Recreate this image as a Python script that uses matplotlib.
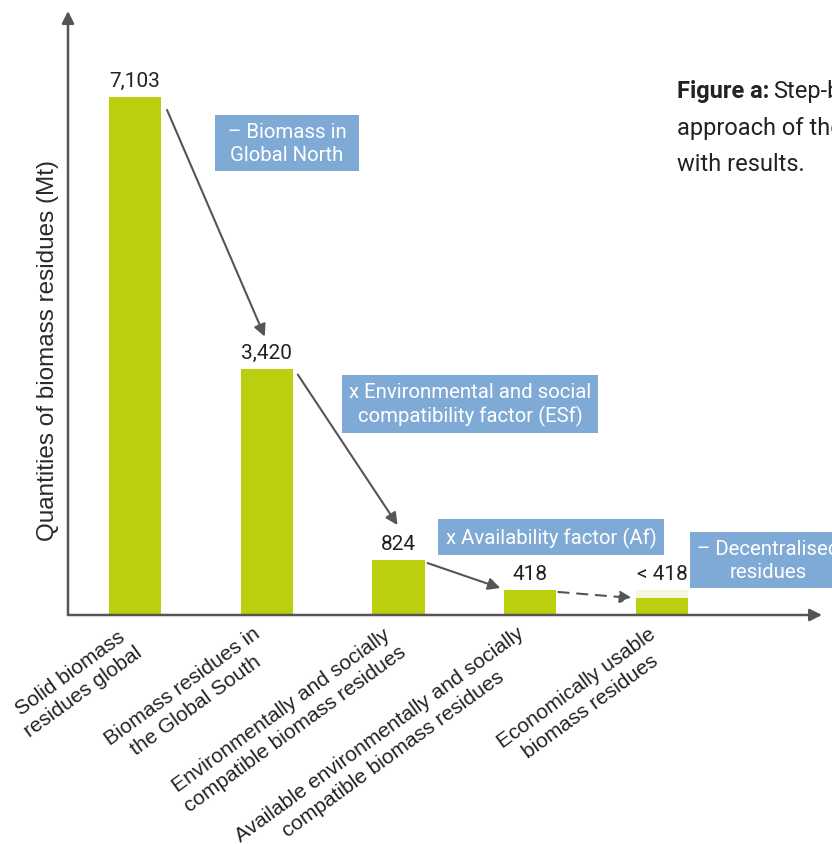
import matplotlib
matplotlib.use('Agg')
import matplotlib.pyplot as plt
import matplotlib.transforms as mtransforms

# data (Mt)
categories = ['Solid biomass\nresidues global',
              'Biomass residues in\nthe Global South',
              'Environmentally and socially\ncompatible biomass residues',
              'Available environmentally and socially\ncompatible biomass residues',
              'Economically usable\nbiomass residues']
values = [7103, 3420, 824, 418, 310]      # last one is an estimate (< 418)
upper_bound = [None, None, None, None, 418]
value_labels = ['7,103', '3,420', '824', '418', '< 418']
step_labels = ['\u2013 Biomass in\nGlobal North',
               'x Environmental and social\ncompatibility factor (ESf)',
               'x Availability factor (Af)',
               '\u2013 Decentralised\nresidues']

GREEN = '#bccf0e'
PALE = '#f3f7e2'
BLUE = '#7faad6'
AXC = '#555555'

W, H = 832, 845
fig = plt.figure(figsize=(W / 100, H / 100), dpi=100)
ax = fig.add_axes([68 / W, (H - 616) / H, 754 / W, 604 / H])
ax.set_xlim(-0.5085, 5.214)
ax.set_ylim(79, 8268)
for s in ax.spines.values():
    s.set_visible(False)

x = list(range(len(values)))
bw = 0.395
for i, ub in enumerate(upper_bound):
    if ub is not None:
        ax.bar(i, ub, width=bw, color=PALE, zorder=1)
ax.bar(x, values, width=bw, color=GREEN, zorder=2)

# value labels on top of bars
for i, v in enumerate(values):
    top = upper_bound[i] if upper_bound[i] is not None else v
    ax.annotate(value_labels[i], (i, top), xytext=(0, 5), textcoords='offset points',
                ha='center', va='bottom', fontsize=15, family='Roboto', color='#222222')

# axes with arrow heads
ax.annotate('', xy=(1, 0), xytext=(0, 0), xycoords='axes fraction',
            arrowprops=dict(arrowstyle='-|>', color=AXC, lw=1.8, mutation_scale=18,
                            shrinkA=0, shrinkB=0))
ax.annotate('', xy=(0, 1), xytext=(0, 0), xycoords='axes fraction',
            arrowprops=dict(arrowstyle='-|>', color=AXC, lw=1.8, mutation_scale=18,
                            shrinkA=0, shrinkB=0))

ax.set_yticks([])
ax.set_xticks(x)
ax.set_xticklabels(categories, rotation=36, ha='right', rotation_mode='anchor',
                   multialignment='center', fontsize=15, family='Liberation Sans',
                   color='#222222', linespacing=1.25)
ax.tick_params(axis='x', length=0, pad=6)
shift = mtransforms.ScaledTranslation(-14 / 100, 0, fig.dpi_scale_trans)
for lab in ax.get_xticklabels():
    lab.set_transform(lab.get_transform() + shift)

ax.set_ylabel('Quantities of biomass residues (Mt)', fontsize=17.5,
              family='Liberation Sans', color='#2a2a2a')
ax.yaxis.set_label_coords(-0.012, 0.439)

# step arrows between bars (offsets given in pixels, converted to data units)
px_y = (8268 - 79) / 604
px_x = (5.214 + 0.5085) / 754
arrow_kw = dict(arrowstyle='-|>', color=AXC, lw=1.5, mutation_scale=18,
                shrinkA=0, shrinkB=0)
tops = [upper_bound[i] if upper_bound[i] is not None else values[i] for i in x]
starts = [(0 + bw / 2 + 6 * px_x, tops[0] - 13 * px_y),
          (1 + bw / 2 + 5 * px_x, tops[1] - 6 * px_y),
          (2 + bw / 2 + 3 * px_x, tops[2] - 3 * px_y),
          (3 + bw / 2 + 2 * px_x, tops[3] - 2 * px_y)]
ends = [(1 - 2 * px_x, tops[1] + 32 * px_y),
        (2 - 1 * px_x, tops[2] + 35 * px_y),
        (3 - bw / 2 - 4 * px_x, tops[3] + 2 * px_y),
        (4 - bw / 2 - 4 * px_x, values[4])]
for k, (s, e) in enumerate(zip(starts, ends)):
    kw = dict(arrow_kw)
    if k == 3:
        kw['linestyle'] = (0, (5, 4))
    ax.annotate('', xy=e, xytext=s, arrowprops=kw)

# blue step boxes
box_pos = [(287, 144), (470, 405), (551, 538), (768, 561)]
for (bx, by), txt in zip(box_pos, step_labels):
    t = txt
    if txt.startswith('\u2013 Biomass'):
        t = ' \u2013 Biomass in \nGlobal North'
    fig.text(bx / W, 1 - by / H, t, ha='center', va='center', fontsize=14.7,
             family='Roboto', color='white', linespacing=1.25,
             bbox=dict(boxstyle='square,pad=0.35', fc=BLUE, ec='none'))

# side caption (cut off at the right edge)
fy = [98, 135, 171]
t0 = fig.text(677 / W, 1 - fy[0] / H, 'Figure a:', fontsize=17, family='Roboto',
              weight='bold', color='#222222', va='baseline')
fig.canvas.draw()
bb = t0.get_window_extent()
fig.text(bb.x1 / W + 0.004, 1 - fy[0] / H, 'Step-by-step', fontsize=17, family='Roboto',
         color='#222222', va='baseline')
fig.text(677 / W, 1 - fy[1] / H, 'approach of the study', fontsize=17, family='Roboto',
         color='#222222', va='baseline')
fig.text(677 / W, 1 - fy[2] / H, 'with results.', fontsize=17, family='Roboto',
         color='#222222', va='baseline')

fig.savefig('out.png', dpi=100)
